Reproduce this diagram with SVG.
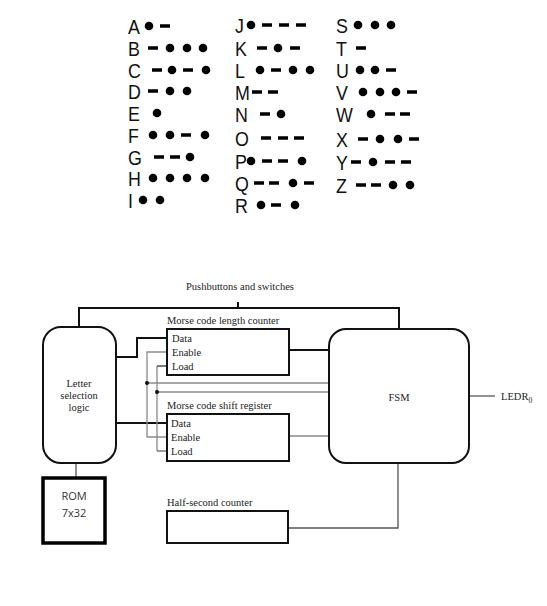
<svg xmlns="http://www.w3.org/2000/svg" xmlns:xlink="http://www.w3.org/1999/xlink" width="547" height="606" viewBox="0 0 547 606">
<style>
.ltr{font-family:"Liberation Sans",Arial,sans-serif;font-size:21px;fill:#111}
.lbl{font-family:"Liberation Serif","Times New Roman",serif;font-size:10.5px;fill:#222}
.rom{font-family:"Open Sans","Liberation Sans",sans-serif;font-size:11px;fill:#333}
.box{fill:#fff;stroke:#111;stroke-width:2}
.blk{fill:none;stroke:#111;stroke-width:2}
.gry{fill:none;stroke:#8a8a8a;stroke-width:1.3}
.dk{fill:none;stroke:#555;stroke-width:1.3}
</style>
<defs>
<circle id="d" cx="0" cy="0" r="4.3" fill="#000"/>
<rect id="h" x="-5" y="-1.75" width="10" height="3.5" fill="#000"/>
</defs>
<rect width="547" height="606" fill="#fff"/>

<g id="morse-table">
<g class="ltr">
<text transform="translate(128,33.5) scale(0.85,1)">A</text>
<text transform="translate(128,55.5) scale(0.85,1)">B</text>
<text transform="translate(128,77.5) scale(0.85,1)">C</text>
<text transform="translate(128,98.5) scale(0.85,1)">D</text>
<text transform="translate(128,120.5) scale(0.85,1)">E</text>
<text transform="translate(128,142.5) scale(0.85,1)">F</text>
<text transform="translate(128,164.5) scale(0.85,1)">G</text>
<text transform="translate(128,185.5) scale(0.85,1)">H</text>
<text transform="translate(128,207.5) scale(0.85,1)">I</text>
<text transform="translate(235,32.5) scale(0.85,1)">J</text>
<text transform="translate(235,55.5) scale(0.85,1)">K</text>
<text transform="translate(235,77.5) scale(0.85,1)">L</text>
<text transform="translate(235,99.5) scale(0.85,1)">M</text>
<text transform="translate(235,121.5) scale(0.85,1)">N</text>
<text transform="translate(235,145.5) scale(0.85,1)">O</text>
<text transform="translate(235,168.5) scale(0.85,1)">P</text>
<text transform="translate(235,190.5) scale(0.85,1)">Q</text>
<text transform="translate(235,212.5) scale(0.85,1)">R</text>
<text transform="translate(336,32.5) scale(0.85,1)">S</text>
<text transform="translate(336,55.5) scale(0.85,1)">T</text>
<text transform="translate(336,77.5) scale(0.85,1)">U</text>
<text transform="translate(336,99.5) scale(0.85,1)">V</text>
<text transform="translate(336,121.5) scale(0.85,1)">W</text>
<text transform="translate(336,146.5) scale(0.85,1)">X</text>
<text transform="translate(336,169.5) scale(0.85,1)">Y</text>
<text transform="translate(336,192.5) scale(0.85,1)">Z</text>
</g>
<g id="codes">
<use xlink:href="#d" x="149" y="26"/><use xlink:href="#h" x="165" y="26"/>
<use xlink:href="#h" x="153" y="48"/><use xlink:href="#d" x="170" y="48"/><use xlink:href="#d" x="187" y="48"/><use xlink:href="#d" x="203" y="48"/>
<use xlink:href="#h" x="157" y="70"/><use xlink:href="#d" x="172" y="70"/><use xlink:href="#h" x="188" y="70"/><use xlink:href="#d" x="206" y="70"/>
<use xlink:href="#h" x="153" y="91"/><use xlink:href="#d" x="170" y="91"/><use xlink:href="#d" x="187" y="91"/>
<use xlink:href="#d" x="157" y="113"/>
<use xlink:href="#d" x="153" y="135"/><use xlink:href="#d" x="170" y="135"/><use xlink:href="#h" x="186" y="135"/><use xlink:href="#d" x="205" y="135"/>
<use xlink:href="#h" x="159" y="157"/><use xlink:href="#h" x="175" y="157"/><use xlink:href="#d" x="190" y="157"/>
<use xlink:href="#d" x="153" y="178"/><use xlink:href="#d" x="170" y="178"/><use xlink:href="#d" x="187" y="178"/><use xlink:href="#d" x="205" y="178"/>
<use xlink:href="#d" x="143" y="200"/><use xlink:href="#d" x="160" y="200"/>

<use xlink:href="#d" x="251" y="25"/><use xlink:href="#h" x="267" y="25"/><use xlink:href="#h" x="284" y="25"/><use xlink:href="#h" x="301" y="25"/>
<use xlink:href="#h" x="262" y="48"/><use xlink:href="#d" x="278" y="48"/><use xlink:href="#h" x="295" y="48"/>
<use xlink:href="#d" x="260" y="70"/><use xlink:href="#h" x="276" y="70"/><use xlink:href="#d" x="293" y="70"/><use xlink:href="#d" x="310" y="70"/>
<use xlink:href="#h" x="257" y="92"/><use xlink:href="#h" x="273" y="92"/>
<use xlink:href="#h" x="265" y="114"/><use xlink:href="#d" x="281" y="114"/>
<use xlink:href="#h" x="266" y="138"/><use xlink:href="#h" x="283" y="138"/><use xlink:href="#h" x="299" y="138"/>
<use xlink:href="#d" x="251" y="161"/><use xlink:href="#h" x="267" y="161"/><use xlink:href="#h" x="283" y="161"/><use xlink:href="#d" x="302" y="161"/>
<use xlink:href="#h" x="259" y="183"/><use xlink:href="#h" x="274" y="183"/><use xlink:href="#d" x="293" y="183"/><use xlink:href="#h" x="309" y="183"/>
<use xlink:href="#d" x="261" y="205"/><use xlink:href="#h" x="276" y="205"/><use xlink:href="#d" x="295" y="205"/>

<use xlink:href="#d" x="358" y="25"/><use xlink:href="#d" x="375" y="25"/><use xlink:href="#d" x="391" y="25"/>
<use xlink:href="#h" x="361" y="48"/>
<use xlink:href="#d" x="360" y="70"/><use xlink:href="#d" x="375" y="70"/><use xlink:href="#h" x="391" y="70"/>
<use xlink:href="#d" x="363" y="92"/><use xlink:href="#d" x="380" y="92"/><use xlink:href="#d" x="396" y="92"/><use xlink:href="#h" x="412" y="92"/>
<use xlink:href="#d" x="371" y="114"/><use xlink:href="#h" x="390" y="114"/><use xlink:href="#h" x="405" y="114"/>
<use xlink:href="#h" x="363" y="139"/><use xlink:href="#d" x="380" y="139"/><use xlink:href="#d" x="398" y="139"/><use xlink:href="#h" x="414" y="139"/>
<use xlink:href="#h" x="356" y="162"/><use xlink:href="#d" x="373" y="162"/><use xlink:href="#h" x="390" y="162"/><use xlink:href="#h" x="406" y="162"/>
<use xlink:href="#h" x="361" y="185"/><use xlink:href="#h" x="376" y="185"/><use xlink:href="#d" x="393" y="185"/><use xlink:href="#d" x="410" y="185"/>
</g>
</g>

<g id="connectors">
<polyline class="blk" points="79,327 79,308 399,308 399,329"/>
<line class="blk" x1="238" y1="302" x2="238" y2="308" stroke-width="2.5"/>
<polyline class="blk" points="116,357 137,357 137,338 167,338"/>
<line class="blk" x1="116" y1="423" x2="167" y2="423"/>
<line class="blk" x1="289" y1="350" x2="329" y2="350"/>
<polyline class="gry" points="167,352 147,352 147,437 167,437"/>
<polyline class="gry" points="157,451 157,366"/>
<line x1="157" y1="366" x2="167" y2="366" stroke="#333" stroke-width="1.3"/>
<line x1="157" y1="451" x2="167" y2="451" stroke="#666" stroke-width="1.3"/>
<line class="gry" x1="147" y1="383" x2="329" y2="383"/>
<line class="gry" x1="157" y1="392" x2="329" y2="392"/>
<circle cx="147" cy="383" r="2" fill="#111"/>
<circle cx="157" cy="392" r="2" fill="#111"/>
<line class="gry" x1="289" y1="436" x2="329" y2="436"/>
<line class="dk" x1="469" y1="396" x2="495" y2="396"/>
<line class="dk" x1="76" y1="463" x2="76" y2="478"/>
<polyline class="dk" points="288,528 398,528 398,463"/>
</g>

<g id="pushbuttons">
<text class="lbl" x="240" y="290" text-anchor="middle">Pushbuttons and switches</text>
</g>

<g id="letter-selection-logic">
<rect class="box" x="43" y="327" width="73" height="136" rx="18"/>
<text class="lbl" x="79" y="387" text-anchor="middle">Letter</text>
<text class="lbl" x="79" y="399" text-anchor="middle">selection</text>
<text class="lbl" x="79" y="411" text-anchor="middle">logic</text>
</g>

<g id="length-counter">
<text class="lbl" x="167" y="324">Morse code length counter</text>
<rect class="box" x="167" y="329" width="122" height="46"/>
<text class="lbl" x="172" y="341.5">Data</text>
<text class="lbl" x="172" y="355.5">Enable</text>
<text class="lbl" x="172" y="369.5">Load</text>
</g>

<g id="shift-register">
<text class="lbl" x="167" y="408.5">Morse code shift register</text>
<rect class="box" x="167" y="414" width="122" height="47"/>
<text class="lbl" x="171" y="426.5">Data</text>
<text class="lbl" x="171" y="440.5">Enable</text>
<text class="lbl" x="171" y="454.5">Load</text>
</g>

<g id="fsm">
<rect class="box" x="329" y="329" width="140" height="134" rx="17"/>
<text class="lbl" x="399" y="401" text-anchor="middle" font-size="11">FSM</text>
</g>

<g id="ledr">
<text class="lbl" x="501" y="400">LEDR<tspan font-size="7.5" dy="3">0</tspan></text>
</g>

<g id="rom">
<rect x="43" y="478" width="62" height="65" fill="#fff" stroke="#000" stroke-width="3.5"/>
<text class="rom" x="74" y="500" text-anchor="middle">ROM</text>
<text class="rom" x="74" y="517" text-anchor="middle">7x32</text>
</g>

<g id="half-second-counter">
<text class="lbl" x="167" y="506">Half-second counter</text>
<rect class="box" x="167" y="511" width="121" height="32"/>
</g>
</svg>
